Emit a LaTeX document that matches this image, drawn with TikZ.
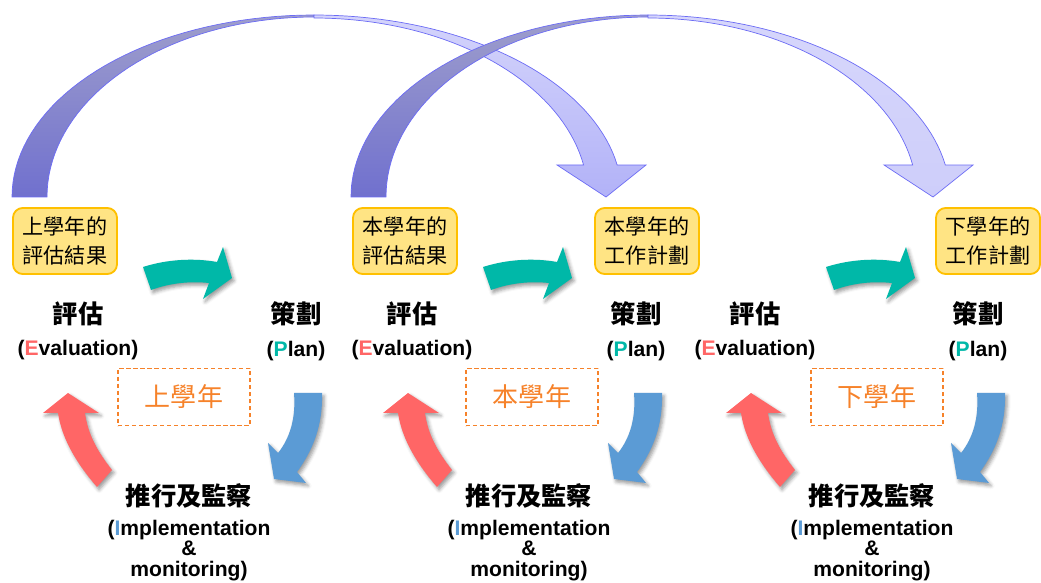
\documentclass[tikz,border=0pt]{standalone}
\usepackage{fontspec}
\setmainfont{Liberation Sans}
\newfontfamily\cjk{Noto Sans CJK TC}
\usetikzlibrary{positioning, shadows.blur}

\definecolor{evalred}{RGB}{255,102,102}
\definecolor{planteal}{RGB}{0,184,168}
\definecolor{impblue}{RGB}{91,155,213}
\definecolor{notefill}{RGB}{255,228,132}
\definecolor{noteline}{RGB}{255,192,0}
\definecolor{yearorange}{RGB}{246,130,42}
\definecolor{arcline}{RGB}{108,108,245}
\definecolor{backtop}{RGB}{158,158,204}
\definecolor{backbottom}{RGB}{112,112,206}
\definecolor{fronttop}{RGB}{212,212,251}
\definecolor{frontbottom}{RGB}{178,178,248}
\definecolor{nexttop}{RGB}{214,214,251}
\definecolor{nextbottom}{RGB}{206,206,250}

\tikzset{
  soft_shadow/.style={blur shadow={shadow xshift=1.5pt, shadow yshift=-2pt,
      shadow blur radius=2.5pt, shadow opacity=40}},
  plan_arrow/.pic={
    \fill[planteal, soft_shadow] (143,267) .. controls (168,259) and (195,258) .. (217,262)
      -- (223,247) -- (232,278) -- (203,299) -- (209,283)
      .. controls (190,281) and (170,283) .. (151,290) -- cycle;
  },
  imp_arrow/.pic={
    \fill[impblue, soft_shadow] (294,393) -- (322,393)
      .. controls (323,425) and (313,450) .. (297,472) -- (306,483) -- (274,479)
      -- (268,443) -- (278,453) .. controls (290,438) and (296,418) .. (294,393) -- cycle;
  },
  eval_arrow/.pic={
    \fill[evalred, soft_shadow] (112,470) -- (97,487)
      .. controls (78,465) and (62,440) .. (58,413) -- (43,413) -- (68,393) -- (99,413)
      -- (85,413) .. controls (88,435) and (98,452) .. (112,470) -- cycle;
  }
}

\begin{document}
\begin{tikzpicture}[x=0.025cm, y=-0.025cm,
  note_box/.style={rectangle, rounded corners=7pt, draw=noteline, fill=notefill, line width=1.3pt,
      minimum width=74pt, minimum height=47pt, inner sep=0pt, align=center,
      font=\cjk\fontsize{15}{21}\selectfont},
  year_box/.style={rectangle, draw=yearorange, dash pattern=on 3pt off 2pt, line width=0.9pt,
      minimum width=94pt, minimum height=41pt, text=yearorange,
      font=\cjk\fontsize{18.5}{18.5}\selectfont},
  cn_label/.style={inner sep=0pt, font=\cjk\bfseries\fontsize{18}{18}\selectfont},
  en_label/.style={inner sep=0pt, align=center, font=\bfseries\fontsize{15}{14.5}\selectfont},
  back_band/.style={draw=arcline, line width=0.5pt, top color=backtop, bottom color=backbottom},
  front_band/.style={draw=arcline, line width=0.5pt, top color=fronttop, bottom color=frontbottom}]
    \useasboundingbox (0,0) rectangle (1041,583);

    % last year's result -> this year's plan
    \draw[back_band] plot[domain=180:270, samples=40] ({314+302*cos(\x)}, {197+182*sin(\x)})
      -- plot[domain=270:180, samples=40] ({314+267*cos(\x)}, {197+180*sin(\x)}) -- cycle;
    \draw[front_band] plot[domain=270:349.9, samples=40] ({314+308*cos(\x)}, {197+182*sin(\x)})
      -- (646,165) -- (606,197) -- (557,165)
      -- plot[domain=349.7:270, samples=40] ({314+274*cos(\x)}, {197+179*sin(\x)}) -- cycle;
    % this year's result -> next year's plan
    \draw[back_band] plot[domain=180:270, samples=40] ({648+297*cos(\x)}, {197+182*sin(\x)})
      -- plot[domain=270:180, samples=40] ({648+262*cos(\x)}, {197+180*sin(\x)}) -- cycle;
    \draw[front_band, top color=nexttop, bottom color=nextbottom]
      plot[domain=270:349.9, samples=40] ({648+302*cos(\x)}, {197+182*sin(\x)})
      -- (973,165) -- (933,197) -- (884,165)
      -- plot[domain=349.7:270, samples=40] ({648+269*cos(\x)}, {197+179*sin(\x)}) -- cycle;

    \node[note_box] (last_result) at (65,241) {上學年的\\評估結果};
    \node[note_box] (this_result) at (405,241) {本學年的\\評估結果};
    \node[note_box] (this_plan) at (647,241) {本學年的\\工作計劃};
    \node[note_box] (next_plan) at (988,241) {下學年的\\工作計劃};

    \pic at (0,0) {plan_arrow};
    \pic at (340,0) {plan_arrow};
    \pic at (683,0) {plan_arrow};
    \pic at (0,0) {imp_arrow};
    \pic at (340,0) {imp_arrow};
    \pic at (683,0) {imp_arrow};
    \pic at (0,0) {eval_arrow};
    \pic at (340,0) {eval_arrow};
    \pic at (683,0) {eval_arrow};

    % last year
    \node[cn_label] (eval_a) at (78,314) {評估};
    \node[en_label, below=10pt of eval_a] (eval_a_en) {(\textcolor{evalred}{E}valuation)};
    \node[cn_label] (plan_a) at (296,314) {策劃};
    \node[en_label, below=10pt of plan_a] (plan_a_en) {(\textcolor{planteal}{P}lan)};
    \node[year_box] (year_a) at (184,397) {上學年};
    \node[cn_label] (imp_a) at (189,496) {推行及監察};
    \node[en_label, below=8pt of imp_a] (imp_a_en) {(\textcolor{impblue}{I}mplementation\\\&\\monitoring)};

    % this year
    \node[cn_label] (eval_b) at (412,314) {評估};
    \node[en_label, below=10pt of eval_b] (eval_b_en) {(\textcolor{evalred}{E}valuation)};
    \node[cn_label] (plan_b) at (636,314) {策劃};
    \node[en_label, below=10pt of plan_b] (plan_b_en) {(\textcolor{planteal}{P}lan)};
    \node[year_box] (year_b) at (532,397) {本學年};
    \node[cn_label] (imp_b) at (529,496) {推行及監察};
    \node[en_label, below=8pt of imp_b] (imp_b_en) {(\textcolor{impblue}{I}mplementation\\\&\\monitoring)};

    % next year
    \node[cn_label] (eval_c) at (755,314) {評估};
    \node[en_label, below=10pt of eval_c] (eval_c_en) {(\textcolor{evalred}{E}valuation)};
    \node[cn_label] (plan_c) at (978,314) {策劃};
    \node[en_label, below=10pt of plan_c] (plan_c_en) {(\textcolor{planteal}{P}lan)};
    \node[year_box] (year_c) at (877,397) {下學年};
    \node[cn_label] (imp_c) at (872,496) {推行及監察};
    \node[en_label, below=8pt of imp_c] (imp_c_en) {(\textcolor{impblue}{I}mplementation\\\&\\monitoring)};
\end{tikzpicture}
\end{document}
